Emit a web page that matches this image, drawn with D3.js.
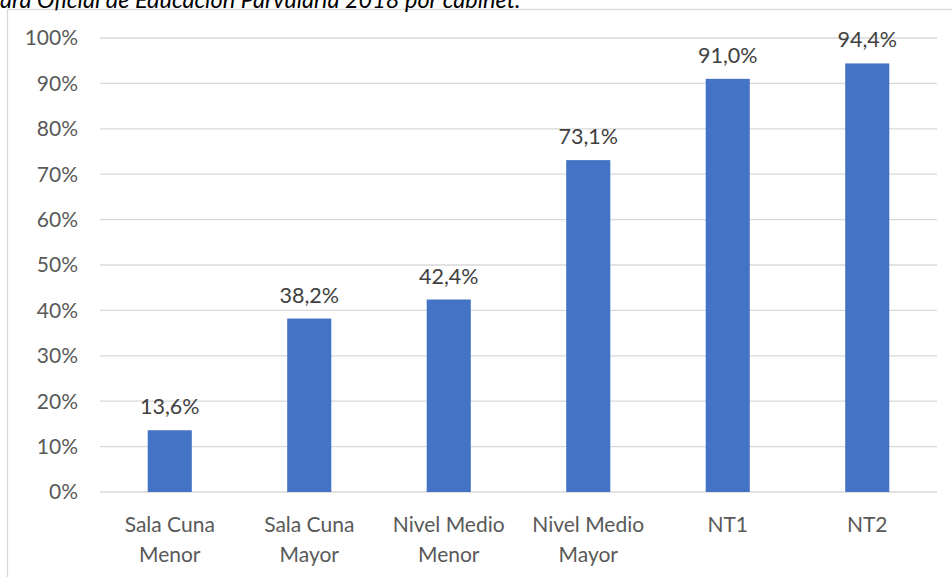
<!DOCTYPE html>
<html lang="es">
<head>
    <meta charset="UTF-8">
    <title>Cobertura por nivel</title>
    <script src="https://d3js.org/d3.v7.min.js"></script>
    <style>
        body { margin: 0; background: #fff; }
        svg { display: block; font-family: Lato, "Open Sans", sans-serif; }
        .grid line { stroke: #d9d9d9; stroke-width: 1.3px; }
        .axis text { fill: #595959; font-size: 21px; }
        .label { fill: #404040; font-size: 21.5px; }
    </style>
</head>
<body>
    <svg width="952" height="577"></svg>

    <script>
        const titleText = "ara Oficial de Educación Parvularia 2018 por cabinet.";
        const categories = [
            ["Sala Cuna", "Menor"],
            ["Sala Cuna", "Mayor"],
            ["Nivel Medio", "Menor"],
            ["Nivel Medio", "Mayor"],
            ["NT1"],
            ["NT2"]
        ];
        const values = [13.6, 38.2, 42.4, 73.1, 91.0, 94.4];
        const yTicks = [0, 10, 20, 30, 40, 50, 60, 70, 80, 90, 100];

        const svg = d3.select("svg");
        const margin = { top: 38, left: 100, right: 15, bottom: 85 };
        const width = 952, height = 577;

        // chart frame
        svg.append("rect")
            .attr("x", 7.5).attr("y", 9.5)
            .attr("width", 960).attr("height", 600)
            .attr("fill", "none")
            .attr("stroke", "#d9d9d9")
            .attr("stroke-width", 1.3);

        svg.append("text")
            .attr("x", 0).attr("y", 8)
            .attr("font-size", 23.5)
            .attr("font-style", "italic")
            .attr("fill", "#000")
            .text(titleText);

        const x = d3.scaleBand()
            .domain(categories.map((d, i) => i))
            .range([margin.left, width - margin.right])
            .paddingInner(0.684)
            .paddingOuter(0.342);

        const y = d3.scaleLinear()
            .domain([0, 100])
            .range([height - margin.bottom, margin.top]);

        svg.append("g")
            .attr("class", "grid")
            .selectAll("line")
            .data(yTicks)
            .enter().append("line")
            .attr("x1", margin.left)
            .attr("x2", width - margin.right)
            .attr("y1", d => y(d))
            .attr("y2", d => y(d));

        svg.append("g")
            .attr("class", "axis")
            .selectAll("text")
            .data(yTicks)
            .enter().append("text")
            .attr("x", 78)
            .attr("y", d => y(d))
            .attr("dy", "0.35em")
            .attr("text-anchor", "end")
            .text(d => d + "%");

        svg.append("g")
            .selectAll("rect")
            .data(values)
            .enter().append("rect")
            .attr("x", (d, i) => x(i))
            .attr("width", x.bandwidth())
            .attr("y", d => y(d))
            .attr("height", d => y(0) - y(d))
            .attr("fill", "#4472c4");

        svg.append("g")
            .selectAll("text")
            .data(values)
            .enter().append("text")
            .attr("class", "label")
            .attr("x", (d, i) => x(i) + x.bandwidth() / 2)
            .attr("y", d => y(d) - 16)
            .attr("text-anchor", "middle")
            .text(d => d.toFixed(1).replace(".", ",") + "%");

        const cat = svg.append("g")
            .attr("class", "axis")
            .selectAll("text")
            .data(categories)
            .enter().append("text")
            .attr("x", (d, i) => x(i) + x.bandwidth() / 2)
            .attr("y", 532)
            .attr("text-anchor", "middle");

        cat.selectAll("tspan")
            .data(d => d)
            .enter().append("tspan")
            .attr("x", function () { return d3.select(this.parentNode).attr("x"); })
            .attr("dy", (d, i) => i === 0 ? 0 : 29.5)
            .text(d => d);
    </script>
</body>
</html>
